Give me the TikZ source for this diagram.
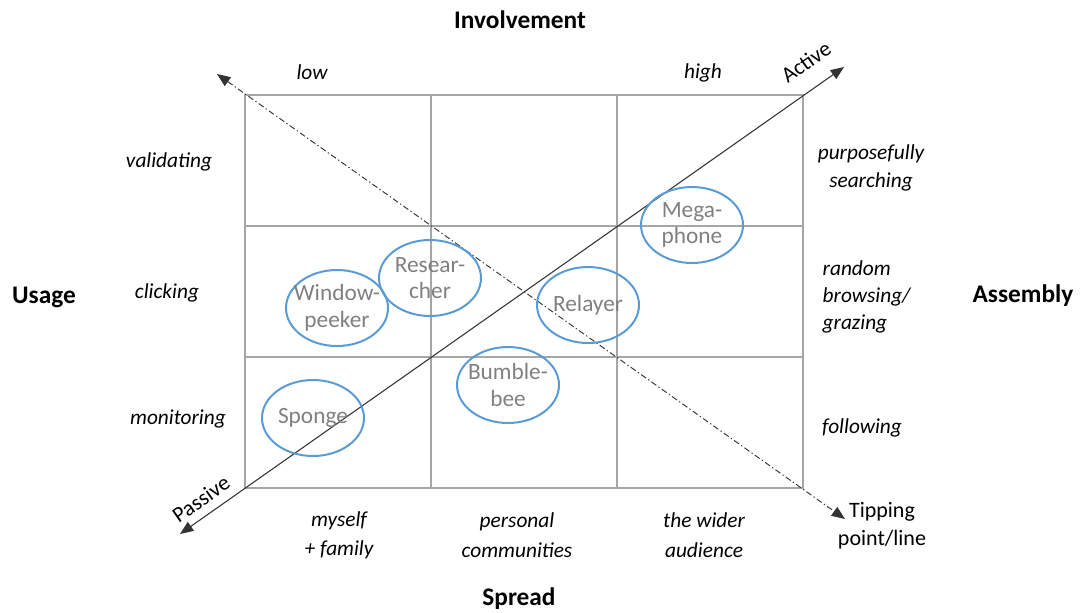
\documentclass[tikz,border=0pt]{standalone}
\usepackage{fontspec}
\setmainfont{Carlito}
\usetikzlibrary{arrows.meta,shapes.geometric}
\tikzset{>={Triangle[length=10pt,width=8pt]}}
\definecolor{gridColor}{RGB}{166,166,166}
\definecolor{ringColor}{RGB}{91,155,213}
\definecolor{typeColor}{RGB}{128,128,128}
\tikzset{
	axis/.style={font=\fontsize{19}{23}\selectfont\bfseries},
	level/.style={font=\fontsize{16}{20.5}\selectfont\itshape, align=center},
	pole/.style={font=\fontsize{16.5}{20}\selectfont, rotate=35.1},
	type/.style={ellipse, draw=ringColor, line width=1.5pt, minimum width=76.5pt,
		minimum height=57pt, inner sep=-9pt, text=typeColor, align=center,
		font=\fontsize{17.5}{20}\selectfont},
}

\begin{document}
\begin{tikzpicture}[x=0.75pt,y=-0.75pt]
		\useasboundingbox (0,0) rectangle (1081,612);
		% the 3x3 grid
		\draw[gridColor, line width=1.6pt] (245,95) rectangle (803,488);
		\foreach \x in {431,617}
			\draw[gridColor, line width=1.6pt] (\x,95) -- (\x,488);
		\foreach \y in {226,357}
			\draw[gridColor, line width=1.6pt] (245,\y) -- (803,\y);
		
		% passive - active and the tipping line
		\coordinate (passive) at (180,534);
		\coordinate (active) at (844,67);
		\coordinate (tipTop) at (217,74);
		\coordinate (tipEnd) at (845,519);
		\draw[<->, line width=0.8pt, black!80] (passive) -- (active);
		\draw[<->, line width=0.7pt, black!80, dash pattern=on 4.5pt off 2pt on 1pt off 2pt] (tipTop) -- (tipEnd);
		\node[pole] (activeLbl) at (806,62) {Active};
		\node[pole] (passiveLbl) at (201,499) {Passive};
		\node[font=\fontsize{16.5}{21}\selectfont, align=center] (tipping) at (882,526) {Tipping\\point/line};
		
		% user types
		\node[type] (megaphone) at (692,225) {Mega-\\phone};
		\node[type] (researcher) at (430,278) {Resear-\\cher};
		\node[type] (windowpeeker) at (337,308) {Window-\\peeker};
		\node[type] (relayer) at (588,305) {Relayer};
		\node[type] (bumblebee) at (508,385) {Bumble-\\bee};
		\node[type] (sponge) at (313,418) {Sponge};
		
		% axes
		\node[axis] (involvement) at (520,20) {Involvement};
		\node[axis] (usage) at (44,297) {Usage};
		\node[axis] (assembly) at (1023,296) {Assembly};
		\node[axis] (spread) at (519,599) {Spread};
		
		\node[level] (low) at (312,72) {low};
		\node[level] (high) at (703,73) {high};
		\node[level] (validating) at (169,162) {validating};
		\node[level] (clicking) at (167,293) {clicking};
		\node[level] (monitoring) at (178,419) {monitoring};
		\node[level] (searching) at (871,168) {purposefully\\searching};
		\node[level, align=left, anchor=west] (browsing) at (818,297) {random\\browsing/\\grazing};
		\node[level] (following) at (862,428) {following};
		\node[level, font=\fontsize{16}{22}\selectfont\itshape] (family) at (339,535) {myself\\+ family};
		\node[level, font=\fontsize{16}{22}\selectfont\itshape] (communities) at (517,535) {personal\\communities};
		\node[level, font=\fontsize{16}{22}\selectfont\itshape] (audience) at (704,535) {the wider\\audience};
		
		\end{tikzpicture}
\end{document}
